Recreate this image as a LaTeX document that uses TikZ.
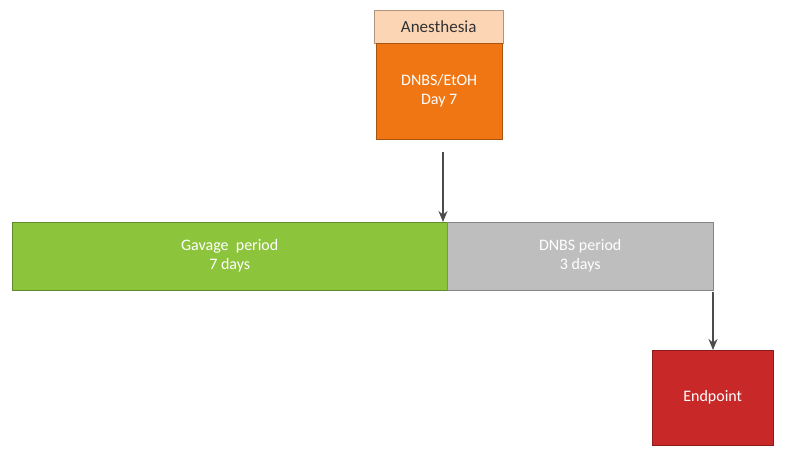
\documentclass[tikz,border=0pt]{standalone}
\usepackage{fontspec}
\setmainfont{Carlito}
\usepackage{tikz}
\usetikzlibrary{arrows.meta}

\definecolor{orangebox}{RGB}{240,118,20}
\definecolor{peachbox}{RGB}{252,213,180}
\definecolor{greenbar}{RGB}{140,196,60}
\definecolor{graybar}{RGB}{190,190,190}
\definecolor{redbox}{RGB}{200,40,40}

\tikzset{
	box/.style={draw=#1!70!black, fill=#1, inner sep=0pt, anchor=north west},
	arrowline/.style={-{Stealth[length=11pt,width=9pt]}, line width=1.6pt, draw=black!70}
}

\begin{document}
\begin{tikzpicture}[x=1pt, y=-1pt, font=\fontsize{16}{19}\selectfont]
	\useasboundingbox (0,0) rectangle (787,467);

	% time line
	\node[box=greenbar, minimum width=435, minimum height=68, text=white, align=center] (gavage) at (12,222) {Gavage\ \ period\\7 days};
	\node[box=graybar, minimum width=266, minimum height=68, text=white, align=center] (dnbs) at (447,222) {DNBS period\\3 days};

	% induction
	\node[box=peachbox, minimum width=129, minimum height=33, text=black!80, font=\fontsize{17}{20}\selectfont] (anest) at (374,10) {Anesthesia};
	\node[box=orangebox, minimum width=126, minimum height=96, text=white, align=center] (etoh) at (376,43) {DNBS/EtOH\\Day 7};

	% end
	\node[box=redbox, minimum width=121, minimum height=95, text=white] (end) at (652,350) {Endpoint};

	\coordinate (a1) at (443,152);
	\coordinate (a2) at (713,292);
	\draw[arrowline] (a1) -- (gavage.north east -| a1);
	\draw[arrowline] (a2) -- (end.north -| a2);
\end{tikzpicture}
\end{document}
